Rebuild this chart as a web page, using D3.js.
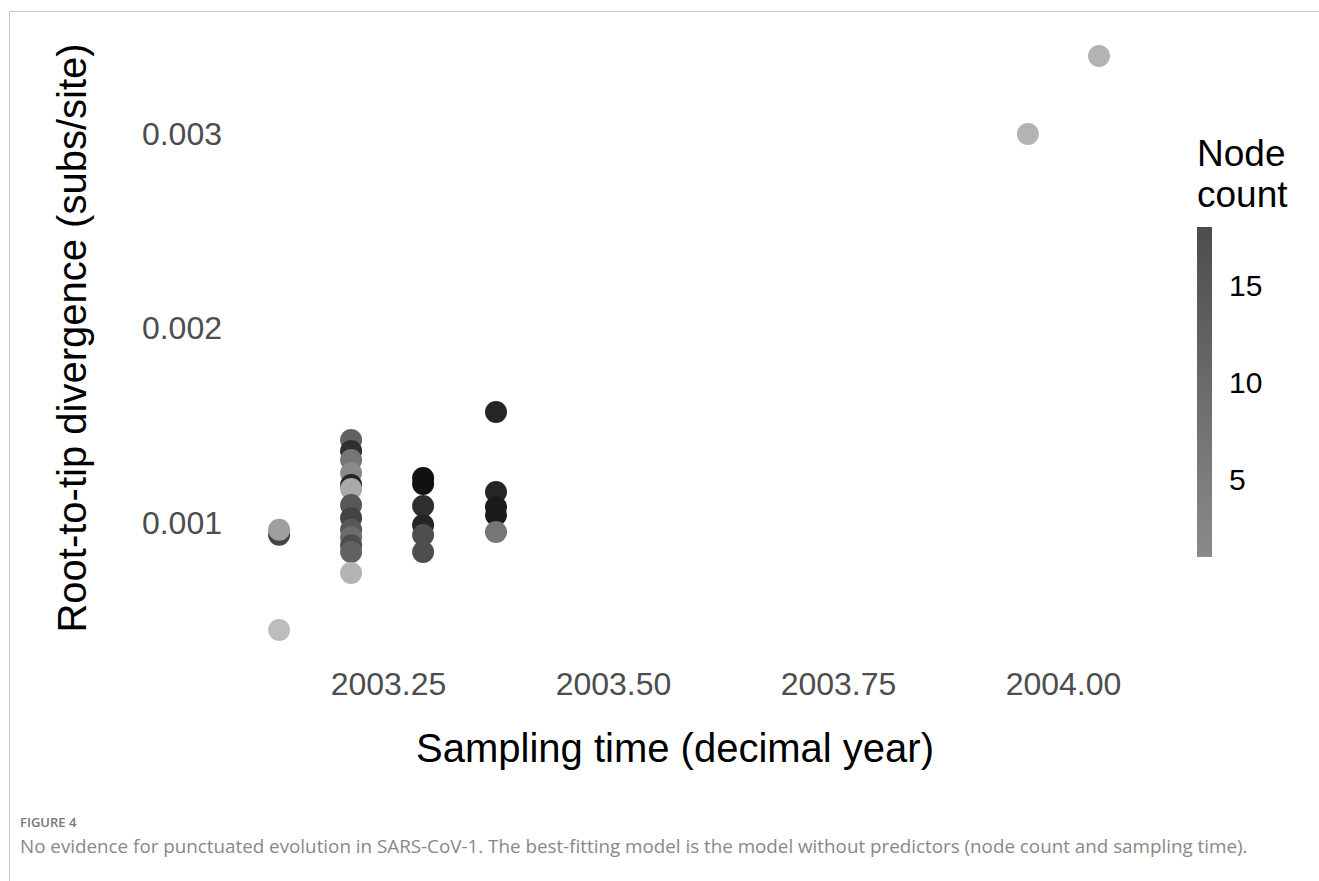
<!DOCTYPE html>
<html>
<head>
<meta charset="utf-8">
<script src="https://cdn.jsdelivr.net/npm/d3@7"></script>
<style>
  html, body { margin: 0; padding: 0; background: #fff; }
  svg { display: block; }
</style>
</head>
<body>
<svg id="chart" width="1319" height="881"></svg>
<script>
// ---- data ----
const samplingTime = [
  2003.129, 2003.129, 2003.129,
  2003.209, 2003.209, 2003.209, 2003.209, 2003.209, 2003.209, 2003.209, 2003.209, 2003.209, 2003.209, 2003.209, 2003.209, 2003.209,
  2003.289, 2003.289, 2003.289, 2003.289, 2003.289, 2003.289,
  2003.370, 2003.370, 2003.370, 2003.370, 2003.370,
  2003.961, 2004.040
];
const divergence = [
  0.000935, 0.000960, 0.000445,
  0.001422, 0.001365, 0.001319, 0.001252, 0.001190, 0.001170, 0.001087, 0.001020, 0.000960, 0.000922, 0.000880, 0.000846, 0.000738,
  0.001226, 0.001195, 0.001082, 0.000985, 0.000933, 0.000846,
  0.001566, 0.001154, 0.001077, 0.001036, 0.000949,
  0.002995, 0.003396
];
const nodeCount = [
  13, 4, 1,
  10, 15, 8, 6, 16, 3, 11, 13, 11, 9, 12, 10, 2,
  18, 18, 15, 16, 12, 12,
  16, 16, 17, 17, 8,
  2, 2
];
const xTicks = [2003.25, 2003.50, 2003.75, 2004.00];
const yTicks = [0.001, 0.002, 0.003];
const legendTicks = [5, 10, 15];
const countRange = [1, 18];

const svg = d3.select("#chart");

// frame lines (top and left)
svg.append("line").attr("x1", 9.5).attr("x2", 1319).attr("y1", 11.5).attr("y2", 11.5)
  .attr("stroke", "#c8c8c8").attr("stroke-width", 1);
svg.append("line").attr("x1", 9.5).attr("x2", 9.5).attr("y1", 11.5).attr("y2", 881)
  .attr("stroke", "#c8c8c8").attr("stroke-width", 1);

// scales
const x = d3.scaleLinear().domain([2003.25, 2004.00]).range([388, 1063]);
const y = d3.scaleLinear().domain([0.001, 0.003]).range([522, 133]);
const pointColor = d3.scaleLinear().domain(countRange).range(["#bdbdbd", "#111111"]);
const legendColor = d3.scaleLinear().domain(countRange).range(["#8a8a8a", "#4d4d4d"]);

const font = "'Liberation Sans', Arial, Helvetica, sans-serif";

// axes (text only, no lines)
const xAxis = d3.axisBottom(x).tickValues(xTicks).tickFormat(d3.format(".2f")).tickSize(0).tickPadding(0);
const gx = svg.append("g").attr("transform", "translate(0,672)").call(xAxis);
gx.select(".domain").remove();
gx.selectAll("text").attr("font-family", font).attr("font-size", 32).attr("fill", "#4d4d4d").attr("dy", "0.71em");

const yAxis = d3.axisLeft(y).tickValues(yTicks).tickFormat(d3.format(".3f")).tickSize(0).tickPadding(0);
const gy = svg.append("g").attr("transform", "translate(222,0)").call(yAxis);
gy.select(".domain").remove();
gy.selectAll("text").attr("font-family", font).attr("font-size", 32).attr("fill", "#4d4d4d").attr("dy", "0.35em");

// points
const pts = samplingTime.map((t, i) => ({ t, v: divergence[i], n: nodeCount[i] }));
svg.append("g").selectAll("circle").data(pts).join("circle")
  .attr("cx", d => x(d.t))
  .attr("cy", d => y(d.v))
  .attr("r", 11)
  .attr("fill", d => pointColor(d.n));

// axis titles
svg.append("text").attr("x", 675).attr("y", 762).attr("text-anchor", "middle")
  .attr("font-family", font).attr("font-size", 40).attr("fill", "#000")
  .text("Sampling time (decimal year)");
svg.append("text").attr("transform", "translate(86,338) rotate(-90)").attr("text-anchor", "middle")
  .attr("font-family", font).attr("font-size", 40).attr("fill", "#000")
  .text("Root-to-tip divergence (subs/site)");

// legend
const lg = svg.append("g");
lg.append("text").attr("x", 1197).attr("y", 166).attr("font-family", font).attr("font-size", 37).attr("fill", "#000").text("Node");
lg.append("text").attr("x", 1197).attr("y", 207).attr("font-family", font).attr("font-size", 37).attr("fill", "#000").text("count");
const defs = svg.append("defs");
const grad = defs.append("linearGradient").attr("id", "lgrad").attr("x1", 0).attr("x2", 0).attr("y1", 1).attr("y2", 0);
d3.range(0, 1.0001, 0.1).forEach(f => {
  const c = countRange[0] + f * (countRange[1] - countRange[0]);
  grad.append("stop").attr("offset", f).attr("stop-color", legendColor(c));
});
const ly = d3.scaleLinear().domain(countRange).range([557, 227]);
lg.append("rect").attr("x", 1197).attr("y", ly(countRange[1])).attr("width", 15)
  .attr("height", ly(countRange[0]) - ly(countRange[1])).attr("fill", "url(#lgrad)");
lg.selectAll("text.lt").data(legendTicks).join("text").attr("class", "lt")
  .attr("x", 1229).attr("y", d => ly(d)).attr("dy", "0.35em")
  .attr("font-family", font).attr("font-size", 30).attr("fill", "#000")
  .text(d => d);

// caption
const capFont = "'Open Sans', 'Noto Sans', sans-serif";
svg.append("text").attr("x", 20).attr("y", 827).attr("font-family", capFont).attr("font-size", 13)
  .attr("font-weight", 600).attr("fill", "#777").text("FIGURE 4");
const cap = svg.append("text").attr("x", 20).attr("y", 853).attr("font-family", capFont).attr("font-size", 17)
  .attr("fill", "#888")
  .text("No evidence for punctuated evolution in SARS-CoV-1. The best-fitting model is the model without predictors (node count and sampling time).");
const w = cap.node().getComputedTextLength();
cap.attr("font-size", 17 * 1228 / w);
</script>
</body>
</html>
